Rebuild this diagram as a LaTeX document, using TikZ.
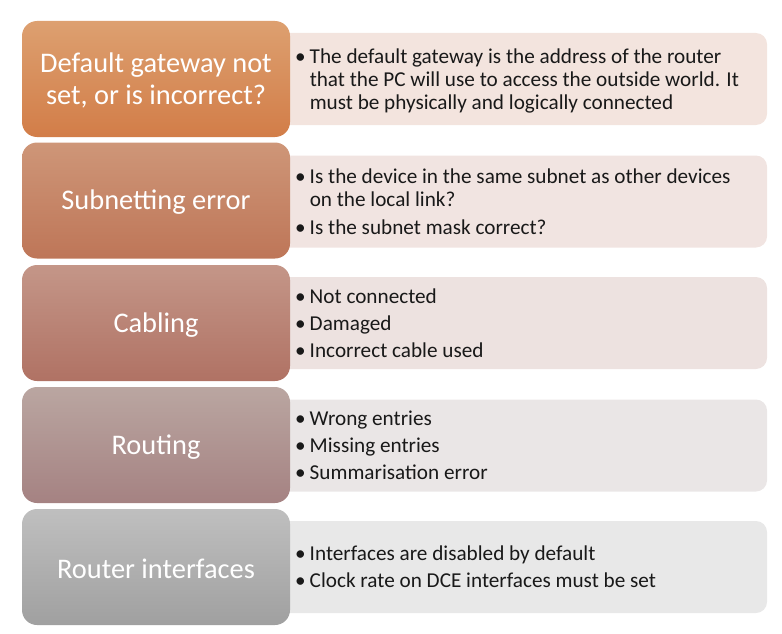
\documentclass[tikz,border=0pt]{standalone}
\usepackage{fontspec}
\setmainfont{Carlito}
\begin{document}
\begin{tikzpicture}[x=1pt,y=-1pt,
  leftbox/.style={rounded corners=15pt, minimum width=268pt, minimum height=116pt, inner sep=0pt,
    text=white, align=center, font=\fontsize{28.4}{32}\selectfont},
  lefttext/.style={text=white, align=center, inner sep=0pt, font=\fontsize{28.4}{32}\selectfont},
  rightbox/.style={rounded corners=11pt, minimum width=497pt, minimum height=92pt, inner sep=0pt},
  bullets/.style={anchor=west, inner sep=0pt, align=left, font=\fontsize{21.2}{23}\selectfont, text=black!90}
]
\useasboundingbox (0,0) rectangle (782,634);
\newcommand{\blist}[1]{\begin{tabular}{@{}l@{\hspace{4pt}}l@{}}#1\end{tabular}}
% right boxes
\node[rightbox, fill={rgb,255:red,243;green,228;blue,222}] (r1) at (518.5,79) {};
\node[rightbox, fill={rgb,255:red,241;green,228;blue,225}] (r2) at (518.5,201.5) {};
\node[rightbox, fill={rgb,255:red,237;green,226;blue,224}] (r3) at (518.5,323) {};
\node[rightbox, fill={rgb,255:red,234;green,230;blue,230}] (r4) at (518.5,445.5) {};
\node[rightbox, fill={rgb,255:red,232;green,232;blue,232}] (r5) at (518.5,567) {};
% left boxes
\node[leftbox, top color={rgb,255:red,221;green,160;blue,112}, bottom color={rgb,255:red,210;green,125;blue,72}] (l1) at (156,79) {};
\node[leftbox, top color={rgb,255:red,206;green,150;blue,120}, bottom color={rgb,255:red,190;green,118;blue,88}] (l2) at (156,200.5) {};
\node[leftbox, top color={rgb,255:red,196;green,150;blue,136}, bottom color={rgb,255:red,176;green,114;blue,100}] (l3) at (156,323) {};
\node[leftbox, top color={rgb,255:red,186;green,166;blue,161}, bottom color={rgb,255:red,165;green,130;blue,130}] (l4) at (156,445) {};
\node[leftbox, top color={rgb,255:red,191;green,191;blue,191}, bottom color={rgb,255:red,160;green,160;blue,160}] (l5) at (156,567) {};
\node[lefttext] (lt1) at ([yshift=-1.5pt]l1.center) {Default gateway not\\set, or is incorrect?};
\node[lefttext] (lt2) at ([yshift=-2pt]l2.center) {Subnetting error};
\node[lefttext] (lt3) at ([yshift=-2pt]l3.center) {Cabling};
\node[lefttext] (lt4) at ([yshift=-2pt]l4.center) {Routing};
\node[lefttext] (lt5) at ([yshift=-2pt]l5.center) {Router interfaces};
% texts
\node[bullets] (t1) at (295,81.5) {\blist{\textbullet & The default gateway is the address of the router\\ & that the PC will use to access the outside world. It\\ & must be physically and logically connected}};
\node[bullets] (t2) at (295,204) {\blist{\textbullet & Is the device in the same subnet as other devices\\ & on the local link?\\[5pt] \textbullet & Is the subnet mask correct?}};
\node[bullets] (t3) at (295,325.5) {\blist{\textbullet & Not connected\\[4pt] \textbullet & Damaged\\[4pt] \textbullet & Incorrect cable used}};
\node[bullets] (t4) at (295,447.5) {\blist{\textbullet & Wrong entries\\[4pt] \textbullet & Missing entries\\[4pt] \textbullet & Summarisation error}};
\node[bullets] (t5) at (295,569.5) {\blist{\textbullet & Interfaces are disabled by default\\[4pt] \textbullet & Clock rate on DCE interfaces must be set}};
\end{tikzpicture}
\end{document}
